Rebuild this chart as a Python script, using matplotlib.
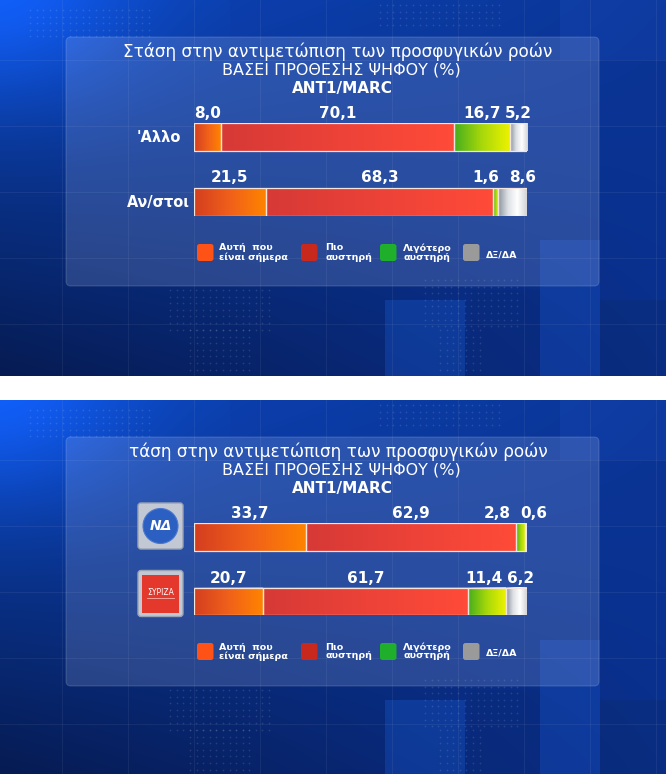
import numpy as np
import matplotlib
matplotlib.use("Agg")
import matplotlib.pyplot as plt
from matplotlib.colors import LinearSegmentedColormap, to_rgb
from matplotlib.patches import FancyBboxPatch, Rectangle, Circle
from matplotlib.transforms import blended_transform_factory

# ---------------- data ----------------
title_top = "Στάση στην αντιμετώπιση των προσφυγικών ροών"
title_bottom = "τάση στην αντιμετώπιση των προσφυγικών ροών"
subtitle = "ΒΑΣΕΙ ΠΡΟΘΕΣΗΣ ΨΗΦΟΥ (%)"
source = "ANT1/MARC"
categories = ["Αυτή  που\nείναι σήμερα", "Πιο\nαυστηρή", "Λιγότερο\nαυστηρή", "ΔΞ/ΔΑ"]
top_groups = ["'Αλλο", "Αν/στοι"]
allo_values = [8.0, 70.1, 16.7, 5.2]
anstoi_values = [21.5, 68.3, 1.6, 8.6]
bottom_groups = ["ΝΔ", "ΣΥΡΙΖΑ"]
nd_values = [33.7, 62.9, 2.8, 0.6]
syriza_values = [20.7, 61.7, 11.4, 6.2]

# ---------------- style ----------------
W, H = 666, 774
FONT = ["DejaVu Sans"]
seg_cmaps = [
    LinearSegmentedColormap.from_list("o", ["#d43e20", "#f0601a", "#ff8400"]),
    LinearSegmentedColormap.from_list("r", ["#d63936", "#ec4238", "#ff4b38"]),
    LinearSegmentedColormap.from_list("g", ["#45ad1e", "#a8d80a", "#ecf200"]),
    LinearSegmentedColormap.from_list("k", ["#8a919b", "#dcdfe4", "#ffffff", "#d0d2d6"]),
]
legend_colors = ["#ff5216", "#c9291c", "#1faf2a", "#9a9a9a"]

fig = plt.figure(figsize=(W / 100, H / 100), dpi=100, facecolor="white")
bg = fig.add_axes([0, 0, 1, 1])
bg.set_xlim(0, W)
bg.set_ylim(H, 0)
bg.axis("off")


def panel_image(h):
    yy, xx = np.mgrid[0:h, 0:W].astype(float)
    u = (xx / (W - 1))[..., None]
    v = (yy / (h - 1))[..., None]
    TL, TR, BL, BR = [np.array(to_rgb(c)) for c in ("#0c45b8", "#0a3596", "#061b52", "#0a2f8c")]
    img = TL * (1 - u) * (1 - v) + TR * u * (1 - v) + BL * (1 - u) * v + BR * u * v
    d = np.hypot(xx / W, yy / h * 0.7)
    img = img + np.exp(-(d / 0.2) ** 2)[..., None] * np.array([0.02, 0.10, 0.25])
    return np.clip(img, 0, 1)


panels = [(0, 376), (400, 774)]
for (y0, y1) in panels:
    bg.imshow(panel_image(y1 - y0), extent=(0, W, y1, y0), aspect="auto", zorder=0,
              interpolation="bilinear")
    # lighter / darker blocks
    for (bx, by, bw, bh, col, a) in [
        (385, 300, 80, 76, "#1a5ad0", 0.35), (470, 290, 70, 86, "#0b2a78", 0.4),
        (540, 240, 60, 136, "#1a5ad0", 0.3), (600, 300, 66, 76, "#0a2a70", 0.4),
        (560, 0, 106, 60, "#1a4fc0", 0.25), (230, 0, 120, 40, "#0c3aa8", 0.25),
    ]:
        bg.add_patch(Rectangle((bx, y0 + by), bw, min(bh, y1 - y0 - by), color=col,
                               alpha=a, lw=0, zorder=0.5))
    # grid lines
    for gx in np.arange(62, W, 66):
        bg.plot([gx, gx], [y0, y1], color="white", alpha=0.07, lw=0.6, zorder=0.6)
    for gy in np.arange(60, y1 - y0, 66):
        bg.plot([0, W], [y0 + gy, y0 + gy], color="white", alpha=0.07, lw=0.6, zorder=0.6)
    # dot clusters
    for (dx0, dx1, dy0, dy1) in [(170, 275, 290, 330), (190, 255, 330, 376),
                                  (425, 520, 280, 330), (440, 480, 330, 376),
                                  (30, 150, 10, 40), (380, 500, 5, 30)]:
        gx, gy = np.meshgrid(np.arange(dx0, dx1, 6.6), np.arange(dy0, dy1, 6.6))
        bg.scatter(gx.ravel(), y0 + gy.ravel(), s=1.6, color="white", alpha=0.12,
                   lw=0, zorder=0.7)
    # card
    bg.add_patch(FancyBboxPatch((66, y0 + 37), 533, 249,
                                boxstyle="round,pad=0,rounding_size=5",
                                fc=(0.8, 0.85, 1.0, 0.17), ec=(1, 1, 1, 0.15), lw=0.8,
                                zorder=1))

# titles
for (y0, t) in [(0, title_top), (400, title_bottom)]:
    bg.text(338, y0 + 52, t, ha="center", va="center", color="white", fontsize=12.2,
            family=FONT, zorder=5)
    bg.text(341, y0 + 70, subtitle, ha="center", va="center", color="white",
            fontsize=11.5, family=FONT, zorder=5)
    bg.text(342, y0 + 88, source, ha="center", va="center", color="white",
            fontsize=11, fontweight="bold", family=FONT, zorder=5)

grad = np.linspace(0, 1, 256)[None, :]


def pix_axes(x0, y0, x1, y1):
    ax = fig.add_axes([x0 / W, 1 - y1 / H, (x1 - x0) / W, (y1 - y0) / H])
    ax.patch.set_alpha(0)
    ax.axis("off")
    return ax


def place_labels(vals, gap=11.0, xmax=102.0):
    cum = np.cumsum([0] + list(vals))
    pos = list((cum[:-1] + cum[1:]) / 2)
    for i in range(1, len(pos)):
        if pos[i] - pos[i - 1] < gap:
            m = (pos[i] + pos[i - 1]) / 2
            pos[i - 1], pos[i] = m - gap / 2, m + gap / 2
    if pos[-1] > xmax:
        pos[-1] = xmax
        for i in range(len(pos) - 2, -1, -1):
            pos[i] = min(pos[i], pos[i + 1] - gap)
    return pos


def draw_panel(rows, row0_px, spacing_px, bar_h_px, label_off_px):
    hh = bar_h_px / spacing_px / 2
    top_px = row0_px - hh * spacing_px
    bot_px = row0_px + spacing_px + hh * spacing_px
    ax = pix_axes(194, top_px, 527, bot_px)
    for r, vals in enumerate(rows):
        left = 0.0
        lefts = []
        for v, cm in zip(vals, seg_cmaps):
            ax.imshow(grad, extent=(left, left + v, r + hh, r - hh), cmap=cm,
                      aspect="auto", interpolation="bilinear", zorder=2)
            lefts.append(left)
            left += v
        ax.barh([r] * len(vals), vals, left=lefts, height=2 * hh, fill=False,
                edgecolor="#f3e4dc", lw=0.9, zorder=3)
        for x, v in zip(place_labels(vals), vals):
            ax.text(x, r - label_off_px / spacing_px, f"{v:.1f}".replace(".", ","),
                    ha="center", va="center", color="white", fontsize=11,
                    fontweight="bold", family=FONT, zorder=5, clip_on=False)
    ax.set_xlim(0, 100)
    ax.set_ylim(1 + hh, -hh)
    return ax


ax_top = draw_panel([allo_values, anstoi_values], 137.2, 64.8, 28, 24)
ax_bot = draw_panel([nd_values, syriza_values], 537, 64.5, 27.5, 23)

# row labels (top panel)
tr = blended_transform_factory(bg.transData, ax_top.transData)
ax_top.text(159, 0, top_groups[0], transform=tr, ha="center", va="center", color="white",
            fontsize=10.5, fontweight="bold", family=FONT, clip_on=False)
ax_top.text(190, 1, top_groups[1], transform=tr, ha="right", va="center", color="white",
            fontsize=10.5, fontweight="bold", family=FONT, clip_on=False)

# party logos (bottom panel)
for (cy, name) in [(526, bottom_groups[0]), (593.5, bottom_groups[1])]:
    bg.add_patch(FancyBboxPatch((138, cy - 23), 45, 46, boxstyle="round,pad=0,rounding_size=3",
                                fc="#c3c9d4", ec="#9aa3b4", lw=1.0, zorder=4))
    if name == "ΝΔ":
        bg.add_patch(Circle((160.5, cy), 17.5, fc="#2c5fc2", ec="#4a78d0", lw=0.8, zorder=5))
        bg.text(160.5, cy, name, ha="center", va="center", color="white", fontsize=10,
                fontweight="bold", fontstyle="italic", family=FONT, zorder=6)
    else:
        bg.add_patch(Rectangle((142, cy - 19), 37, 38, fc="#e4382c", lw=0, zorder=5))
        bg.text(160.5, cy - 1, name, ha="center", va="center", color="white", fontsize=5.5,
                family=FONT, zorder=6)
        bg.plot([147, 174], [cy + 4.5, cy + 4.5], color="#f6b0a8", lw=0.6, zorder=6)

# legends
sq_x = [197, 301, 380, 463]
tx_x = [219, 325, 403, 486]
for (y0, cy) in [(0, 252.5), (400, 651.5)]:
    for cat, col, sx, tx in zip(categories, legend_colors, sq_x, tx_x):
        bg.add_patch(FancyBboxPatch((sx, cy - 8.5), 16.5, 17,
                                    boxstyle="round,pad=0,rounding_size=2.5",
                                    fc=col, ec="none", zorder=4))
        lines = cat.split("\n")
        if len(lines) == 1:
            bg.text(tx, cy + 2, lines[0], ha="left", va="center", color="white", fontsize=6.8,
                    fontweight="bold", family=FONT, zorder=5)
        else:
            for k, ln in enumerate(lines):
                bg.text(tx, cy - 4.5 + 9 * k, ln, ha="left", va="center", color="white",
                        fontsize=6.8, fontweight="bold", family=FONT, zorder=5)

fig.savefig("out.png", dpi=100, facecolor="white")
